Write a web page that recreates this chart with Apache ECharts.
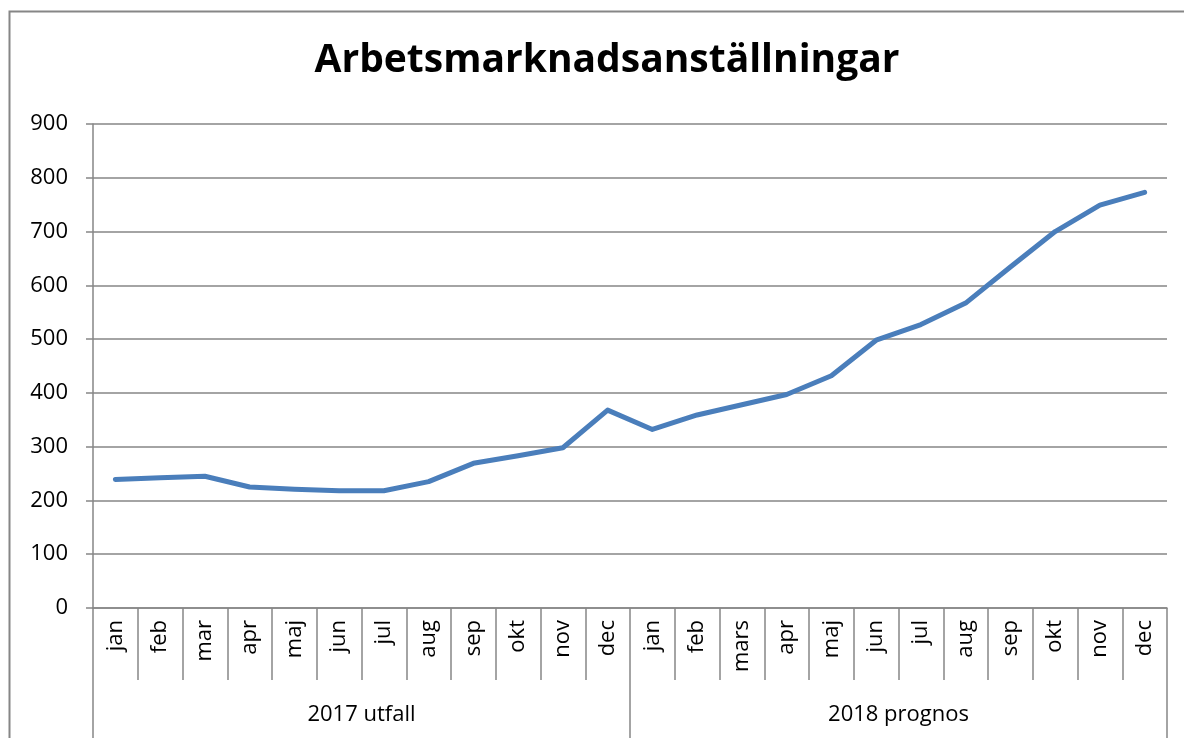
<!DOCTYPE html>
<html>
<head>
<meta charset="utf-8">
<script src="https://cdn.jsdelivr.net/npm/echarts@6/dist/echarts.min.js"></script>
<style>
  html, body { margin: 0; padding: 0; background: #fff; }
  #chart { width: 1184px; height: 738px; }
</style>
</head>
<body>
<div id="chart"></div>
<script>
const manader = ["jan", "feb", "mar", "apr", "maj", "jun", "jul", "aug", "sep", "okt", "nov", "dec",
                 "jan", "feb", "mars", "apr", "maj", "jun", "jul", "aug", "sep", "okt", "nov", "dec"];
const grupper = ["2017 utfall", "2018 prognos"];
const anstallningar = [239, 242, 245, 225, 221, 218, 218, 235, 269, 283, 298, 368,
                       332, 359, 378, 397, 432, 498, 527, 567, 634, 700, 749, 773];
const yTicks = [0, 900, 100];

const grid = "#868686";
const font = "Open Sans";

const chart = echarts.init(document.getElementById("chart"));

chart.setOption({
    animation: false,
    title: {
        text: "Arbetsmarknadsanställningar",
        left: 602,
        textAlign: "center",
        top: 36,
        textStyle: { fontFamily: font, fontWeight: "bold", fontSize: 39, color: "#000" }
    },
    graphic: [{
        type: "rect",
        shape: { x: 9.5, y: 11.5, width: 1200, height: 760 },
        style: { fill: "none", stroke: grid, lineWidth: 2 },
        silent: true
    }],
    grid: { left: 93, right: 17, top: 124, bottom: 130 },
    xAxis: [
        {
            type: "category",
            data: manader,
            boundaryGap: true,
            axisLine: { lineStyle: { color: grid, width: 1.5 } },
            axisTick: { show: true, interval: 0, length: 72, lineStyle: { color: grid, width: 1.5 } },
            axisLabel: { interval: 0, rotate: 90, margin: 12, fontFamily: font, fontSize: 22, color: "#000" }
        },
        {
            type: "category",
            data: grupper,
            position: "bottom",
            offset: 72,
            boundaryGap: true,
            axisLine: { show: false },
            axisTick: { show: true, interval: 0, length: 60, lineStyle: { color: grid, width: 1.5 } },
            axisLabel: { interval: 0, margin: 24, fontFamily: font, fontSize: 22, color: "#000" }
        }
    ],
    yAxis: {
        type: "value",
        min: yTicks[0],
        max: yTicks[1],
        interval: yTicks[2],
        axisLine: { show: true, lineStyle: { color: grid, width: 1.5 } },
        axisTick: { show: true, length: 7, lineStyle: { color: grid, width: 1.5 } },
        axisLabel: { margin: 25, fontFamily: font, fontSize: 22, color: "#000" },
        splitLine: { lineStyle: { color: grid, width: 1.5 } }
    },
    series: [{
        type: "line",
        xAxisIndex: 0,
        data: anstallningar,
        showSymbol: false,
        lineStyle: { color: "#4a7ebb", width: 5, cap: "round", join: "round" }
    }]
});
</script>
</body>
</html>
